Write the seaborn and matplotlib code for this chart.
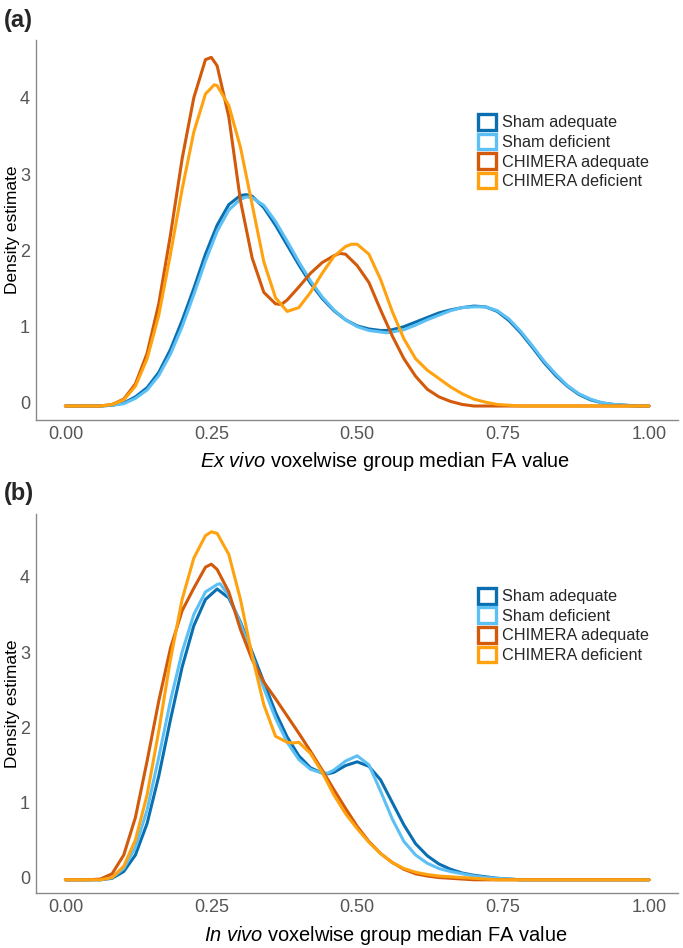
import numpy as np
import pandas as pd
import matplotlib
matplotlib.use('Agg')
import matplotlib.pyplot as plt
from matplotlib.patches import Patch
import seaborn as sns

# Grupos e cores
grupos = ['Sham adequate', 'Sham deficient', 'CHIMERA adequate', 'CHIMERA deficient']
cores = ['#0A6FB0', '#5CC0F5', '#D25A0A', '#FFA20F']

# Eixo x comum (valor FA)
fa = np.round(np.arange(0, 1.0001, 0.02), 2)

# Painel (a): ex vivo, densidade
sham_adq_a = [-0.04, -0.04, -0.04, -0.04, -0.03, 0.00, 0.08, 0.20, 0.40, 0.70, 1.08, 1.50, 1.95,
              2.33, 2.60, 2.72, 2.71, 2.56, 2.33, 2.07, 1.81, 1.57, 1.37, 1.21, 1.09, 1.01, 0.97,
              0.95, 0.96, 1.00, 1.06, 1.12, 1.18, 1.22, 1.25, 1.27, 1.26, 1.20, 1.08, 0.92, 0.73,
              0.53, 0.36, 0.22, 0.11, 0.04, 0.00, -0.02, -0.03, -0.04, -0.04]
sham_def_a = [-0.04, -0.04, -0.04, -0.04, -0.03, -0.01, 0.06, 0.17, 0.36, 0.64, 1.00, 1.42, 1.86,
              2.25, 2.53, 2.67, 2.69, 2.59, 2.38, 2.12, 1.85, 1.60, 1.39, 1.22, 1.09, 1.00, 0.95,
              0.93, 0.93, 0.96, 1.02, 1.09, 1.15, 1.21, 1.25, 1.26, 1.26, 1.21, 1.10, 0.94, 0.75,
              0.55, 0.38, 0.23, 0.12, 0.05, 0.00, -0.02, -0.03, -0.04, -0.04]
chim_adq_a = [-0.04, -0.04, -0.04, -0.04, -0.02, 0.05, 0.25, 0.65, 1.30, 2.20, 3.20, 4.00, 4.50,
              4.42, 3.75, 2.65, 1.90, 1.45, 1.30, 1.35, 1.52, 1.70, 1.84, 1.93, 1.95, 1.80, 1.58,
              1.22, 0.88, 0.58, 0.35, 0.18, 0.08, 0.02, -0.02, -0.04, -0.04, -0.04, -0.04, -0.04, -0.04,
              -0.04, -0.04, -0.04, -0.04, -0.04, -0.04, -0.04, -0.04, -0.04, -0.04]
chim_def_a = [-0.04, -0.04, -0.04, -0.04, -0.02, 0.04, 0.22, 0.58, 1.15, 1.95, 2.80, 3.55, 4.05,
              4.16, 3.90, 3.35, 2.60, 1.85, 1.38, 1.20, 1.25, 1.45, 1.70, 1.92, 2.05, 2.08, 1.95,
              1.62, 1.20, 0.84, 0.58, 0.43, 0.32, 0.21, 0.12, 0.05, 0.01, -0.02, -0.03, -0.04, -0.04,
              -0.04, -0.04, -0.04, -0.04, -0.04, -0.04, -0.04, -0.04, -0.04, -0.04]

# Picos e vales lidos entre os pontos da grade (FA, densidade)
extras_a = [
    [(0.31, 2.73), (0.55, 0.95)],
    [(0.31, 2.70), (0.55, 0.92)],
    [(0.25, 4.53), (0.37, 1.29), (0.47, 1.96)],
    [(0.255, 4.17), (0.49, 2.08)],
]

# Painel (b): in vivo
sham_adq_b = [-0.03, -0.03, -0.03, -0.03, -0.01, 0.08, 0.30, 0.72, 1.35, 2.10, 2.80, 3.35, 3.70,
              3.84, 3.72, 3.40, 3.00, 2.60, 2.20, 1.87, 1.62, 1.46, 1.39, 1.40, 1.49, 1.54, 1.48,
              1.30, 1.00, 0.70, 0.45, 0.29, 0.18, 0.11, 0.06, 0.03, 0.01, -0.01, -0.02, -0.03, -0.03,
              -0.03, -0.03, -0.03, -0.03, -0.03, -0.03, -0.03, -0.03, -0.03, -0.03]
sham_def_b = [-0.03, -0.03, -0.03, -0.03, 0.00, 0.12, 0.40, 0.90, 1.60, 2.35, 3.00, 3.50, 3.80,
              3.90, 3.75, 3.38, 2.95, 2.52, 2.12, 1.80, 1.57, 1.44, 1.39, 1.43, 1.55, 1.62, 1.50,
              1.15, 0.78, 0.48, 0.30, 0.19, 0.12, 0.08, 0.05, 0.02, 0.00, -0.01, -0.02, -0.03, -0.03,
              -0.03, -0.03, -0.03, -0.03, -0.03, -0.03, -0.03, -0.03, -0.03, -0.03]
chim_adq_b = [-0.03, -0.03, -0.03, -0.02, 0.05, 0.30, 0.80, 1.55, 2.35, 3.05, 3.55, 3.85, 4.13,
              4.10, 3.80, 3.30, 2.90, 2.60, 2.38, 2.15, 1.92, 1.68, 1.43, 1.17, 0.92, 0.68, 0.48,
              0.32, 0.20, 0.11, 0.05, 0.02, 0.00, -0.01, -0.02, -0.03, -0.03, -0.03, -0.03, -0.03, -0.03,
              -0.03, -0.03, -0.03, -0.03, -0.03, -0.03, -0.03, -0.03, -0.03, -0.03]
chim_def_b = [-0.03, -0.03, -0.03, -0.03, 0.00, 0.15, 0.50, 1.10, 1.95, 2.90, 3.70, 4.25, 4.55,
              4.58, 4.30, 3.70, 2.95, 2.30, 1.88, 1.80, 1.80, 1.65, 1.40, 1.10, 0.85, 0.65, 0.47,
              0.32, 0.20, 0.12, 0.07, 0.04, 0.02, 0.01, 0.00, -0.01, -0.02, -0.03, -0.03, -0.03, -0.03,
              -0.03, -0.03, -0.03, -0.03, -0.03, -0.03, -0.03, -0.03, -0.03, -0.03]

extras_b = [
    [(0.45, 1.38), (0.50, 1.54)],
    [(0.265, 3.91), (0.45, 1.39)],
    [(0.25, 4.17)],
    [(0.25, 4.60), (0.39, 1.79)],
]


def monta_tabela(curvas, extras):
    partes = []
    for grupo, dens, ext in zip(grupos, curvas, extras):
        x = list(fa) + [p[0] for p in ext]
        y = list(dens) + [p[1] for p in ext]
        df = pd.DataFrame({'FA': x, 'Densidade': y, 'Grupo': grupo})
        df = df.drop_duplicates('FA', keep='last').sort_values('FA')
        partes.append(df)
    return pd.concat(partes, ignore_index=True)


dados_a = monta_tabela([sham_adq_a, sham_def_a, chim_adq_a, chim_def_a], extras_a)
dados_b = monta_tabela([sham_adq_b, sham_def_b, chim_adq_b, chim_def_b], extras_b)

sns.set_style('white')
plt.rcParams['font.family'] = ['Liberation Sans', 'DejaVu Sans']
plt.rcParams['mathtext.fontset'] = 'custom'
plt.rcParams['mathtext.it'] = 'Liberation Sans:italic'
plt.rcParams['mathtext.rm'] = 'Liberation Sans'

fig = plt.figure(figsize=(6.83, 9.48), dpi=100)
ax_a = fig.add_axes([0.053, 0.557, 0.940, 0.401])
ax_b = fig.add_axes([0.053, 0.058, 0.940, 0.400])

paineis = [
    (ax_a, dados_a, r'$\it{Ex\ vivo}$ voxelwise group median FA value', (-0.223, 4.76), '(a)', 0.957, -0.079),
    (ax_b, dados_b, r'$\it{In\ vivo}$ voxelwise group median FA value', (-0.206, 4.84), '(b)', 0.458, -0.082),
]

for ax, dados, rotulo, ylim, letra, ytopo, yrot in paineis:
    sns.lineplot(data=dados, x='FA', y='Densidade', hue='Grupo', hue_order=grupos,
                 palette=cores, linewidth=2.2, legend=False, ax=ax, sort=True)
    for linha in ax.get_lines():
        linha.set_solid_joinstyle('round')
    ax.set_xlim(-0.05, 1.05)
    ax.set_ylim(*ylim)
    ax.set_xticks([0, 0.25, 0.5, 0.75, 1.0])
    ax.set_xticklabels(['0.00', '0.25', '0.50', '0.75', '1.00'])
    ax.set_yticks([0, 1, 2, 3, 4])
    ax.tick_params(axis='both', colors='#8a8a8a', labelcolor='#555555', labelsize=13,
                   length=3, width=0.9, direction='out', pad=1.5)
    ax.set_xlabel(rotulo, fontsize=14.4, color='black')
    ax.xaxis.set_label_coords(0.544, yrot)
    ax.set_ylabel('Density estimate', fontsize=12.5, color='black')
    ax.yaxis.set_label_coords(-0.025, 0.5)
    for lado in ['top', 'right']:
        ax.spines[lado].set_visible(False)
    for lado in ['left', 'bottom']:
        ax.spines[lado].set_color('#8a8a8a')
        ax.spines[lado].set_linewidth(1.0)
    alcas = [Patch(facecolor='white', edgecolor=c, linewidth=2.4, label=g)
             for g, c in zip(grupos, cores)]
    ax.legend(handles=alcas, loc='upper left', bbox_to_anchor=(0.675, 0.826), frameon=False,
              fontsize=11.7, handlelength=1.1, handleheight=1.1, handletextpad=0.4,
              labelspacing=0.2, borderpad=0)
    fig.text(0.006, ytopo + 0.034, letra, fontsize=17, fontweight='bold', va='top', ha='left')

fig.savefig('out.png', dpi=100)
